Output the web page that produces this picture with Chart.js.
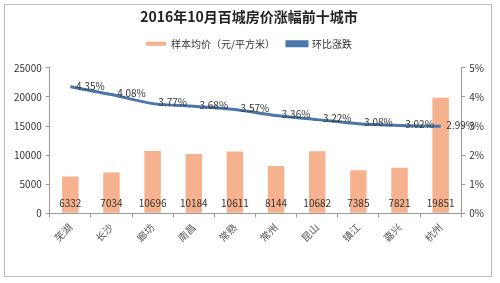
<!DOCTYPE html>
<html>
<head>
<meta charset="utf-8">
<script src="https://cdn.jsdelivr.net/npm/chart.js@4.4.1/dist/chart.umd.min.js"></script>
<style>
  html, body { margin: 0; padding: 0; background: #fff; }
  #frame { position: absolute; left: 4px; top: 4px; width: 488px; height: 273px; border: 1px solid #bdbdbd; box-sizing: border-box; }
  #wrap { position: absolute; left: 0; top: 0; width: 500px; height: 283px; }
</style>
</head>
<body>
<div id="frame"></div>
<div id="wrap"><canvas id="houseChart" width="500" height="283"></canvas></div>
<script>
// 2016年10月 百城房价涨幅前十城市
const cities = ['芜湖', '长沙', '廊坊', '南昌', '常熟', '常州', '昆山', '镇江', '嘉兴', '杭州'];
const avgPrice = [6332, 7034, 10696, 10184, 10611, 8144, 10682, 7385, 7821, 19851];
const momChange = [4.35, 4.08, 3.77, 3.68, 3.57, 3.36, 3.22, 3.08, 3.02, 2.99];
const priceTicks = [0, 5000, 10000, 15000, 20000, 25000];
const pctTicks = [0, 1, 2, 3, 4, 5];

const cjk = '"Noto Sans CJK SC", "DejaVu Sans", sans-serif';

// value labels: prices at bar base, percentages beside the line
const valueLabels = {
    id: 'valueLabels',
    afterInit(chart) {
        // a little extra room under the legend
        const fit = chart.legend.fit;
        chart.legend.fit = function() {
            fit.call(this);
            this.height += 9;
        };
    },
    afterDatasetsDraw(chart) {
        const ctx = chart.ctx;
        const yScale = chart.scales.y;
        ctx.save();
        ctx.font = '10px ' + cjk;
        ctx.fillStyle = '#333';
        ctx.textAlign = 'center';
        ctx.textBaseline = 'middle';
        chart.getDatasetMeta(0).data.forEach((bar, i) => {
            ctx.fillText(avgPrice[i], bar.x, yScale.getPixelForValue(0) - 10);
        });
        chart.getDatasetMeta(1).data.forEach((pt, i) => {
            ctx.fillText(momChange[i].toFixed(2) + '%', pt.x + 20, pt.y - 1);
        });
        ctx.restore();
    }
};

const ctx = document.getElementById('houseChart').getContext('2d');
const houseChart = new Chart(ctx, {
    type: 'bar',
    data: {
        labels: cities,
        datasets: [{
            label: '样本均价（元/平方米）',
            data: avgPrice,
            backgroundColor: '#F6B18E',
            borderWidth: 0,
            barPercentage: 0.4,
            categoryPercentage: 1,
            yAxisID: 'y',
            order: 2
        }, {
            type: 'line',
            label: '环比涨跌',
            data: momChange,
            borderColor: '#4A76AA',
            backgroundColor: '#4A76AA',
            borderWidth: 3,
            pointRadius: 0,
            tension: 0.25,
            yAxisID: 'y1',
            order: 1
        }]
    },
    options: {
        responsive: false,
        animation: false,
        layout: { padding: { left: 10, right: 12, top: 4, bottom: 35 } },
        plugins: {
            title: {
                display: true,
                text: '2016年10月百城房价涨幅前十城市',
                color: '#222',
                font: { family: cjk, size: 14, weight: 'bold' },
                padding: { top: 4, bottom: 2 }
            },
            legend: {
                position: 'top',
                labels: {
                    color: '#333',
                    font: { family: cjk, size: 10 },
                    boxWidth: 20,
                    boxHeight: 4,
                    padding: 12,
                    sort: (a, b) => a.datasetIndex - b.datasetIndex
                }
            },
            tooltip: { enabled: false }
        },
        scales: {
            x: {
                offset: true,
                grid: { display: true, drawOnChartArea: false, offset: true, color: '#999', tickLength: 4 },
                border: { color: '#999' },
                ticks: {
                    color: '#555',
                    font: { family: cjk, size: 10 },
                    minRotation: 45,
                    maxRotation: 45,
                    padding: 4
                }
            },
            y: {
                position: 'left',
                min: 0,
                max: 25000,
                afterBuildTicks: axis => { axis.ticks = priceTicks.map(v => ({ value: v })); },
                grid: { drawOnChartArea: false, color: '#999', tickLength: 4 },
                border: { color: '#999' },
                ticks: { color: '#333', font: { family: cjk, size: 10 }, padding: 4, callback: v => String(v) }
            },
            y1: {
                position: 'right',
                min: 0,
                max: 5,
                afterBuildTicks: axis => { axis.ticks = pctTicks.map(v => ({ value: v })); },
                grid: { drawOnChartArea: false, color: '#999', tickLength: 4 },
                border: { color: '#999' },
                ticks: { color: '#333', font: { family: cjk, size: 10 }, padding: 4, callback: v => v + '%' }
            }
        }
    },
    plugins: [valueLabels]
});
</script>
</body>
</html>
